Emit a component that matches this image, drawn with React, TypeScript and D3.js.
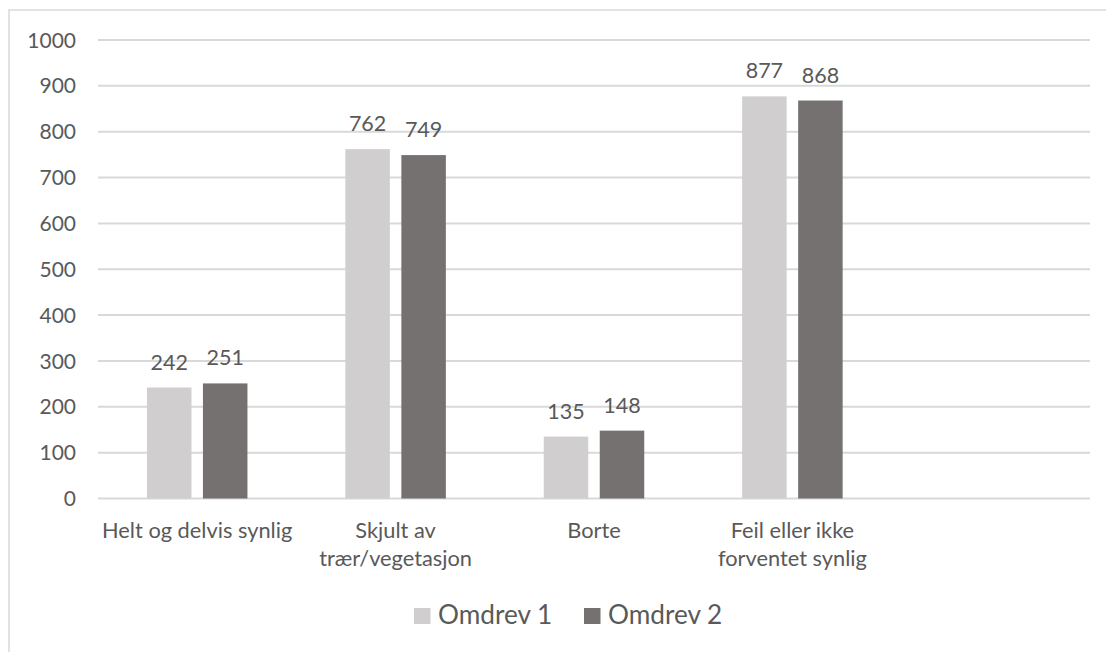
import React from "react";
import * as d3 from "d3";

const categories = [
  ["Helt og delvis synlig"],
  ["Skjult av", "trær/vegetasjon"],
  ["Borte"],
  ["Feil eller ikke", "forventet synlig"],
  [""],
];
const seriesNames = ["Omdrev 1", "Omdrev 2"];
const omdrev1 = [242, 762, 135, 877];
const omdrev2 = [251, 749, 148, 868];
const yTicks = [0, 100, 200, 300, 400, 500, 600, 700, 800, 900, 1000];
const colors = ["#d0cece", "#767171"];

const W = 1106;
const H = 652;
const FONT = "Lato, 'Open Sans', sans-serif";
const TEXT = "#595959";

export default function App() {
  const keys = categories.map((c, i) => String(i));
  const x = d3.scaleBand().domain(keys).range([98, 1090]).paddingInner(0).paddingOuter(0);
  const y = d3.scaleLinear().domain([0, 1000]).range([498.5, 40]);
  const band = x.bandwidth();
  const barW = band * 0.2243;
  const gap = band * 0.058;
  const inner = d3
    .scaleOrdinal<number, number>()
    .domain([0, 1])
    .range([-(barW + gap / 2), gap / 2]);
  const series = [omdrev1, omdrev2];

  const legendX = [414, 584];

  return (
    <svg
      width={W}
      height={H}
      style={{ position: "absolute", left: 0, top: 0, background: "#fff" }}
      fontFamily={FONT}
    >
      <rect x={0} y={0} width={W} height={H} fill="#fff" />
      <rect x={9} y={10} width={1200} height={800} fill="none" stroke="#d9d9d9" strokeWidth={1.5} />
      {yTicks.map((t) => (
        <g key={t}>
          <line x1={98} x2={1090} y1={y(t)} y2={y(t)} stroke="#d9d9d9" strokeWidth={2} />
          <text x={76} y={y(t)} dy="0.36em" textAnchor="end" fontSize={21} fill={TEXT}>
            {t}
          </text>
        </g>
      ))}
      {series.map((vals, si) =>
        vals.map((v, ci) => {
          const cx = (x(String(ci)) as number) + band / 2;
          const bx = cx + (inner(si) as number);
          return (
            <g key={`${si}-${ci}`}>
              <rect x={bx} y={y(v)} width={barW} height={y(0) - y(v)} fill={colors[si]} />
              <text
                x={bx + barW / 2}
                y={y(v) - 18}
                textAnchor="middle"
                fontSize={21.5}
                fill={TEXT}
              >
                {v}
              </text>
            </g>
          );
        })
      )}
      {categories.map((lines, ci) =>
        lines.map((ln, li) => (
          <text
            key={`${ci}-${li}`}
            x={(x(String(ci)) as number) + band / 2}
            y={538 + li * 28.3}
            textAnchor="middle"
            fontSize={21.8}
            fill={TEXT}
          >
            {ln}
          </text>
        ))
      )}
      {seriesNames.map((name, i) => (
        <g key={name}>
          <rect x={legendX[i]} y={608} width={16.5} height={16} fill={colors[i]} />
          <text x={legendX[i] + 24} y={624} fontSize={26.2} fill={TEXT}>
            {name}
          </text>
        </g>
      ))}
    </svg>
  );
}
